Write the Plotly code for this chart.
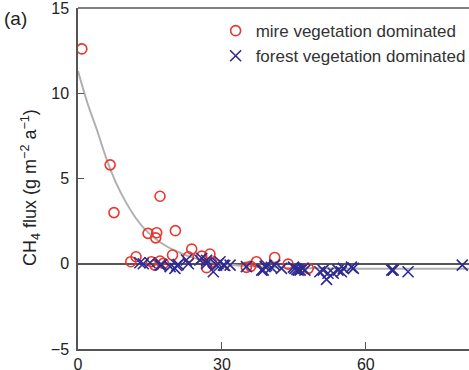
import plotly.graph_objects as go

# mire vegetation dominated (red open circles)
mire_x = [0.8, 6.7, 7.5, 17.1, 14.6, 16.4, 16.2, 20.3, 11.0, 12.1, 15.3, 16.0, 17.1, 17.8,
          19.7, 23.7, 23.0, 25.8, 27.5, 26.8, 27.8, 37.2, 41.0, 43.8, 35.1, 48.0, 36.0]
mire_y = [12.6, 5.8, 3.0, 3.96, 1.78, 1.82, 1.52, 1.94, 0.12, 0.41, 0.12, -0.08, 0.16, 0.02,
          0.51, 0.86, 0.41, 0.45, 0.57, -0.23, 0.1, 0.12, 0.37, -0.02, -0.21, -0.27, -0.15]

# forest vegetation dominated (blue crosses)
forest_x = [12.9, 13.6, 15.0, 17.1, 17.4, 19.2, 20.2, 20.6, 20.9, 22.6, 23.0, 25.4, 25.8,
            26.8, 26.8, 28.2, 28.9, 29.2, 29.6, 30.3, 30.6, 31.7, 35.1, 38.3, 38.6, 39.0,
            39.3, 40.3, 41.0, 42.4, 44.9, 45.2, 45.6, 45.9, 46.3, 46.9, 47.3, 50.4, 51.1,
            51.8, 52.1, 53.2, 54.2, 54.9, 55.3, 57.0, 57.4, 65.4, 65.7, 68.8, 80.1]
forest_y = [0.06, 0.0, 0.06, -0.08, -0.05, -0.17, -0.27, -0.1, -0.05, 0.22, 0.0, 0.22, 0.32,
            0.02, 0.2, -0.47, -0.08, 0.0, 0.12, -0.08, -0.1, -0.08, -0.17, -0.37, -0.37, -0.17,
            -0.1, -0.21, -0.08, -0.27, -0.2, -0.27, -0.33, -0.37, -0.37, -0.27, -0.37, -0.47,
            -0.37, -0.92, -0.56, -0.56, -0.37, -0.47, -0.27, -0.2, -0.27, -0.37, -0.37, -0.47, -0.08]

# fitted curve
fit_x = [0, 2, 4, 6, 8, 10, 12, 14, 16, 18, 20, 23, 26, 30, 35, 40, 50, 60, 81.5]
fit_y = [11.3, 9.4, 7.8, 6.1, 4.7, 3.6, 2.7, 2.0, 1.5, 1.1, 0.8, 0.45, 0.2, 0.0, -0.13,
         -0.2, -0.27, -0.29, -0.3]

x_ticks = [0, 30, 60]
y_ticks = [-5, 0, 5, 10, 15]

FONT = "Liberation Sans, Arial, sans-serif"

fig = go.Figure()
fig.add_trace(go.Scatter(x=fit_x, y=fit_y, mode="lines", line=dict(color="#b0b0b0", width=2, shape="spline"),
                         showlegend=False, hoverinfo="skip"))
fig.add_trace(go.Scatter(x=mire_x, y=mire_y, mode="markers", name="mire vegetation dominated",
                         marker=dict(symbol="circle-open", size=10, color="#e8372d", line=dict(width=1.6))))
fig.add_trace(go.Scatter(x=forest_x, y=forest_y, mode="markers", name="forest vegetation dominated",
                         marker=dict(symbol="x-thin-open", size=11, color="#2f2a8f", line=dict(width=1.6))))

fig.update_layout(
    width=469, height=370,
    margin=dict(l=78, r=0, t=8, b=21, autoexpand=False),
    paper_bgcolor="white", plot_bgcolor="white",
    font=dict(family=FONT, size=16, color="#222"),
    legend=dict(x=0.352, y=0.985, xanchor="left", yanchor="top", bgcolor="rgba(0,0,0,0)",
                font=dict(size=17, color="#333"), itemwidth=30, tracegroupgap=0),
    xaxis=dict(range=[0, 81.5], tickvals=x_ticks, ticks="inside", ticklen=7, tickwidth=1.3,
               tickcolor="#555", showgrid=False, zeroline=False, showline=True, linecolor="#555",
               linewidth=1.5, automargin=False, tickfont=dict(size=16), ticklabeloverflow="allow"),
    yaxis=dict(range=[-5, 15], tickvals=y_ticks, ticks="inside", ticklen=6, tickwidth=1.3,
               tickcolor="#555", showgrid=False, zeroline=True, zerolinecolor="#555",
               zerolinewidth=1.5, showline=True, linecolor="#555", linewidth=1.5,
               automargin=False, tickfont=dict(size=16), ticklabeloverflow="allow",
               ticklabelstandoff=4),
    shapes=[dict(type="line", xref="paper", yref="paper", x0=0, x1=1, y0=1, y1=1,
                 line=dict(color="#555", width=1.5))],
    annotations=[
        dict(text="(a)", xref="paper", yref="paper", x=-0.195, y=0.97,
             xanchor="left", yanchor="middle", showarrow=False,
             font=dict(size=19, color="#222")),
        dict(text="CH<sub>4</sub> flux (g m<sup>−2</sup> a<sup>−1</sup>)", textangle=-90,
             xref="paper", yref="paper", x=-0.123, y=0.475, xanchor="center", yanchor="middle",
             showarrow=False, font=dict(size=18, color="#222")),
    ],
)

fig.write_html("out.html", config={"displayModeBar": False},
               post_script="document.body.style.margin='0';document.body.style.overflow='hidden';")
